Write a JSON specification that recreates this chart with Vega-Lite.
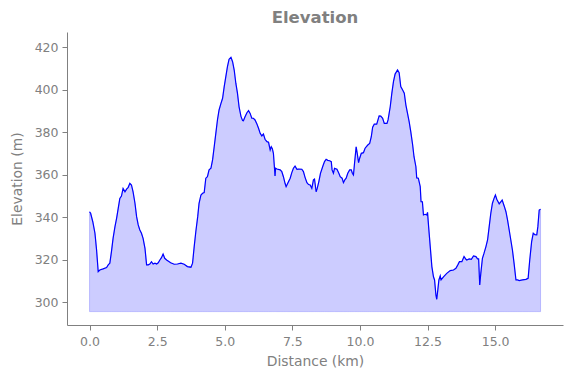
{
  "$schema": "https://vega.github.io/schema/vega-lite/v6.json",
  "width": 496,
  "height": 293,
  "autosize": "none",
  "padding": {"left": 67, "top": 32, "right": 8, "bottom": 53},
  "background": "white",
  "title": {"text": "Elevation", "font": "DejaVu Sans", "fontSize": 16.5, "fontWeight": "bold", "color": "#808080", "anchor": "middle", "offset": 6},
  "config": {"view": {"stroke": null}, "font": "DejaVu Sans"},
  "data": {"values": [
    {"d": 0, "e": 342.6}, {"d": 0.04, "e": 341.9}, {"d": 0.12, "e": 337.9}, {"d": 0.2, "e": 332.5}, {"d": 0.26, "e": 324.6}, {"d": 0.32, "e": 314.4}, {"d": 0.38, "e": 315.2}, {"d": 0.5, "e": 315.7}, {"d": 0.63, "e": 316.3}, {"d": 0.69, "e": 317.6}, {"d": 0.75, "e": 318.4}, {"d": 0.81, "e": 323.8}, {"d": 0.87, "e": 330.1}, {"d": 0.94, "e": 335.6}, {"d": 1.0, "e": 339.5}, {"d": 1.06, "e": 344.2}, {"d": 1.12, "e": 348.9}, {"d": 1.18, "e": 350}, {"d": 1.24, "e": 353.6}, {"d": 1.31, "e": 352}, {"d": 1.37, "e": 353.2}, {"d": 1.43, "e": 354.1}, {"d": 1.49, "e": 356}, {"d": 1.55, "e": 355.2}, {"d": 1.61, "e": 352}, {"d": 1.68, "e": 346.6}, {"d": 1.74, "e": 340.3}, {"d": 1.8, "e": 336.4}, {"d": 1.86, "e": 334}, {"d": 1.92, "e": 332.5}, {"d": 1.98, "e": 330.1}, {"d": 2.05, "e": 325.4}, {"d": 2.11, "e": 317.6}, {"d": 2.17, "e": 317.6}, {"d": 2.23, "e": 318}, {"d": 2.29, "e": 319.1}, {"d": 2.35, "e": 318}, {"d": 2.42, "e": 318.4}, {"d": 2.48, "e": 318}, {"d": 2.54, "e": 318.6}, {"d": 2.6, "e": 319.9}, {"d": 2.66, "e": 321}, {"d": 2.72, "e": 322.7}, {"d": 2.78, "e": 320.7}, {"d": 2.85, "e": 319.9}, {"d": 3.0, "e": 318.6}, {"d": 3.13, "e": 317.9}, {"d": 3.25, "e": 318}, {"d": 3.38, "e": 318.4}, {"d": 3.5, "e": 317.9}, {"d": 3.62, "e": 316.8}, {"d": 3.75, "e": 316.5}, {"d": 3.81, "e": 318.4}, {"d": 3.87, "e": 326.2}, {"d": 3.93, "e": 333.2}, {"d": 4.0, "e": 340.3}, {"d": 4.05, "e": 346.6}, {"d": 4.12, "e": 350.5}, {"d": 4.18, "e": 351.3}, {"d": 4.24, "e": 351.6}, {"d": 4.3, "e": 358.4}, {"d": 4.36, "e": 359.1}, {"d": 4.42, "e": 362.3}, {"d": 4.49, "e": 363.1}, {"d": 4.55, "e": 367}, {"d": 4.61, "e": 373.2}, {"d": 4.67, "e": 379.5}, {"d": 4.73, "e": 385.8}, {"d": 4.79, "e": 390.5}, {"d": 4.86, "e": 393.6}, {"d": 4.92, "e": 396}, {"d": 4.98, "e": 401.5}, {"d": 5.04, "e": 406.2}, {"d": 5.1, "e": 410.9}, {"d": 5.16, "e": 414.4}, {"d": 5.23, "e": 415.3}, {"d": 5.29, "e": 413.2}, {"d": 5.35, "e": 409.3}, {"d": 5.41, "e": 403.1}, {"d": 5.47, "e": 398.4}, {"d": 5.53, "e": 392}, {"d": 5.6, "e": 387.5}, {"d": 5.66, "e": 385.5}, {"d": 5.69, "e": 385.4}, {"d": 5.75, "e": 387.3}, {"d": 5.82, "e": 389.2}, {"d": 5.88, "e": 390.2}, {"d": 5.94, "e": 388.9}, {"d": 6.0, "e": 386.6}, {"d": 6.06, "e": 386.6}, {"d": 6.12, "e": 385.8}, {"d": 6.19, "e": 383.9}, {"d": 6.25, "e": 381.9}, {"d": 6.31, "e": 379.5}, {"d": 6.37, "e": 378.3}, {"d": 6.43, "e": 379.2}, {"d": 6.49, "e": 376.7}, {"d": 6.56, "e": 375.6}, {"d": 6.62, "e": 375.3}, {"d": 6.68, "e": 371.7}, {"d": 6.72, "e": 373.2}, {"d": 6.76, "e": 372.3}, {"d": 6.8, "e": 370.1}, {"d": 6.84, "e": 363.1}, {"d": 6.86, "e": 359.4}, {"d": 6.88, "e": 363.1}, {"d": 6.93, "e": 362.7}, {"d": 7.05, "e": 362.3}, {"d": 7.11, "e": 361.5}, {"d": 7.17, "e": 359.1}, {"d": 7.23, "e": 356}, {"d": 7.27, "e": 354.4}, {"d": 7.33, "e": 356}, {"d": 7.42, "e": 358.4}, {"d": 7.48, "e": 361}, {"d": 7.54, "e": 363.1}, {"d": 7.6, "e": 364.1}, {"d": 7.67, "e": 362.6}, {"d": 7.73, "e": 362.7}, {"d": 7.85, "e": 362.6}, {"d": 7.91, "e": 361.5}, {"d": 7.97, "e": 358.8}, {"d": 8.04, "e": 356.3}, {"d": 8.1, "e": 355.4}, {"d": 8.16, "e": 355.2}, {"d": 8.22, "e": 353.6}, {"d": 8.28, "e": 357.6}, {"d": 8.32, "e": 358}, {"d": 8.38, "e": 352}, {"d": 8.42, "e": 353.6}, {"d": 8.48, "e": 356.8}, {"d": 8.54, "e": 360.7}, {"d": 8.63, "e": 364.1}, {"d": 8.69, "e": 366.2}, {"d": 8.75, "e": 367.3}, {"d": 8.81, "e": 366.8}, {"d": 8.88, "e": 366.6}, {"d": 8.94, "e": 366.2}, {"d": 8.97, "e": 362.3}, {"d": 9.02, "e": 360.7}, {"d": 9.06, "e": 363}, {"d": 9.15, "e": 362.6}, {"d": 9.22, "e": 360.7}, {"d": 9.27, "e": 359.1}, {"d": 9.34, "e": 358.4}, {"d": 9.39, "e": 356.3}, {"d": 9.44, "e": 357.6}, {"d": 9.49, "e": 358.4}, {"d": 9.55, "e": 360.7}, {"d": 9.62, "e": 362.3}, {"d": 9.68, "e": 362.3}, {"d": 9.72, "e": 360.7}, {"d": 9.76, "e": 359.9}, {"d": 9.8, "e": 365.4}, {"d": 9.86, "e": 373.2}, {"d": 9.9, "e": 370.1}, {"d": 9.95, "e": 365.7}, {"d": 9.99, "e": 367.8}, {"d": 10.05, "e": 370.1}, {"d": 10.13, "e": 370.4}, {"d": 10.19, "e": 372.5}, {"d": 10.29, "e": 374}, {"d": 10.36, "e": 374.8}, {"d": 10.42, "e": 377.9}, {"d": 10.47, "e": 382.4}, {"d": 10.53, "e": 383.8}, {"d": 10.62, "e": 383.8}, {"d": 10.71, "e": 387.7}, {"d": 10.77, "e": 387.6}, {"d": 10.84, "e": 386.6}, {"d": 10.9, "e": 384.2}, {"d": 11.0, "e": 384.2}, {"d": 11.04, "e": 385.8}, {"d": 11.12, "e": 392}, {"d": 11.18, "e": 398.4}, {"d": 11.24, "e": 403.8}, {"d": 11.3, "e": 407.4}, {"d": 11.39, "e": 409.3}, {"d": 11.45, "e": 408}, {"d": 11.51, "e": 401.5}, {"d": 11.58, "e": 399.9}, {"d": 11.64, "e": 398.4}, {"d": 11.7, "e": 392.8}, {"d": 11.76, "e": 388.9}, {"d": 11.82, "e": 385}, {"d": 11.88, "e": 380.3}, {"d": 11.95, "e": 374}, {"d": 12.0, "e": 368.5}, {"d": 12.07, "e": 363.8}, {"d": 12.1, "e": 358.5}, {"d": 12.16, "e": 358.4}, {"d": 12.23, "e": 354.4}, {"d": 12.26, "e": 347.3}, {"d": 12.31, "e": 347.3}, {"d": 12.35, "e": 341.1}, {"d": 12.41, "e": 341.4}, {"d": 12.47, "e": 341.1}, {"d": 12.5, "e": 342.3}, {"d": 12.54, "e": 335.6}, {"d": 12.6, "e": 326.2}, {"d": 12.66, "e": 316.8}, {"d": 12.72, "e": 312}, {"d": 12.76, "e": 310.5}, {"d": 12.81, "e": 303.4}, {"d": 12.84, "e": 301.4}, {"d": 12.88, "e": 305.8}, {"d": 12.92, "e": 310.5}, {"d": 12.97, "e": 312.4}, {"d": 13.0, "e": 310.5}, {"d": 13.09, "e": 312}, {"d": 13.15, "e": 312.8}, {"d": 13.21, "e": 313.6}, {"d": 13.34, "e": 314.9}, {"d": 13.46, "e": 315.2}, {"d": 13.55, "e": 316}, {"d": 13.62, "e": 317.6}, {"d": 13.68, "e": 319.1}, {"d": 13.77, "e": 319.1}, {"d": 13.85, "e": 321.5}, {"d": 13.92, "e": 320.2}, {"d": 13.95, "e": 319.9}, {"d": 14.04, "e": 320.4}, {"d": 14.12, "e": 320.2}, {"d": 14.2, "e": 321.8}, {"d": 14.29, "e": 321.5}, {"d": 14.35, "e": 320.4}, {"d": 14.39, "e": 320.4}, {"d": 14.43, "e": 308.1}, {"d": 14.47, "e": 313.6}, {"d": 14.53, "e": 320.7}, {"d": 14.59, "e": 323.1}, {"d": 14.66, "e": 326.2}, {"d": 14.72, "e": 329.3}, {"d": 14.78, "e": 335.6}, {"d": 14.84, "e": 341.9}, {"d": 14.9, "e": 346.6}, {"d": 14.96, "e": 348.9}, {"d": 15.01, "e": 350.5}, {"d": 15.06, "e": 348.5}, {"d": 15.15, "e": 346.3}, {"d": 15.21, "e": 347.3}, {"d": 15.26, "e": 348.1}, {"d": 15.34, "e": 345.1}, {"d": 15.4, "e": 342.6}, {"d": 15.46, "e": 338.7}, {"d": 15.52, "e": 334}, {"d": 15.58, "e": 329.3}, {"d": 15.64, "e": 324.6}, {"d": 15.7, "e": 318.4}, {"d": 15.77, "e": 310.5}, {"d": 15.83, "e": 310.5}, {"d": 15.89, "e": 310.2}, {"d": 16.01, "e": 310.5}, {"d": 16.14, "e": 310.8}, {"d": 16.22, "e": 311.3}, {"d": 16.28, "e": 319.9}, {"d": 16.35, "e": 328.5}, {"d": 16.41, "e": 332.5}, {"d": 16.47, "e": 331.8}, {"d": 16.54, "e": 331.7}, {"d": 16.58, "e": 335.6}, {"d": 16.63, "e": 343.4}, {"d": 16.68, "e": 343.8}
  ]},
  "encoding": {
    "x": {
      "field": "d", "type": "quantitative",
      "scale": {"domain": [-0.834, 17.51], "nice": false, "zero": false},
      "axis": {"values": [0, 2.5, 5, 7.5, 10, 12.5, 15], "format": ".1f", "title": "Distance (km)", "grid": false, "labelFlush": false,
        "domainColor": "#808080", "tickColor": "#808080", "labelColor": "#808080", "titleColor": "#808080",
        "labelFont": "DejaVu Sans", "titleFont": "DejaVu Sans", "labelFontSize": 12.5, "titleFontSize": 13.9, "titleFontWeight": "normal",
        "tickSize": 5, "labelPadding": 5, "titlePadding": 7}
    },
    "y": {
      "field": "e", "type": "quantitative",
      "scale": {"domain": [289.3, 427.2], "nice": false, "zero": false},
      "axis": {"values": [300, 320, 340, 360, 380, 400, 420], "title": "Elevation (m)", "grid": false,
        "domainColor": "#808080", "tickColor": "#808080", "labelColor": "#808080", "titleColor": "#808080",
        "labelFont": "DejaVu Sans", "titleFont": "DejaVu Sans", "labelFontSize": 12.5, "titleFontSize": 13.9, "titleFontWeight": "normal",
        "tickSize": 5, "labelPadding": 4, "titlePadding": 10}
    }
  },
  "layer": [
    {
      "mark": {"type": "area", "color": "#0000ff", "fillOpacity": 0.2, "stroke": "#0000ff", "strokeOpacity": 0.2, "strokeWidth": 1},
      "encoding": {"y2": {"datum": 295.6}}
    },
    {
      "mark": {"type": "line", "color": "#0000ff", "strokeWidth": 1.2},
      "encoding": {}
    }
  ]
}
